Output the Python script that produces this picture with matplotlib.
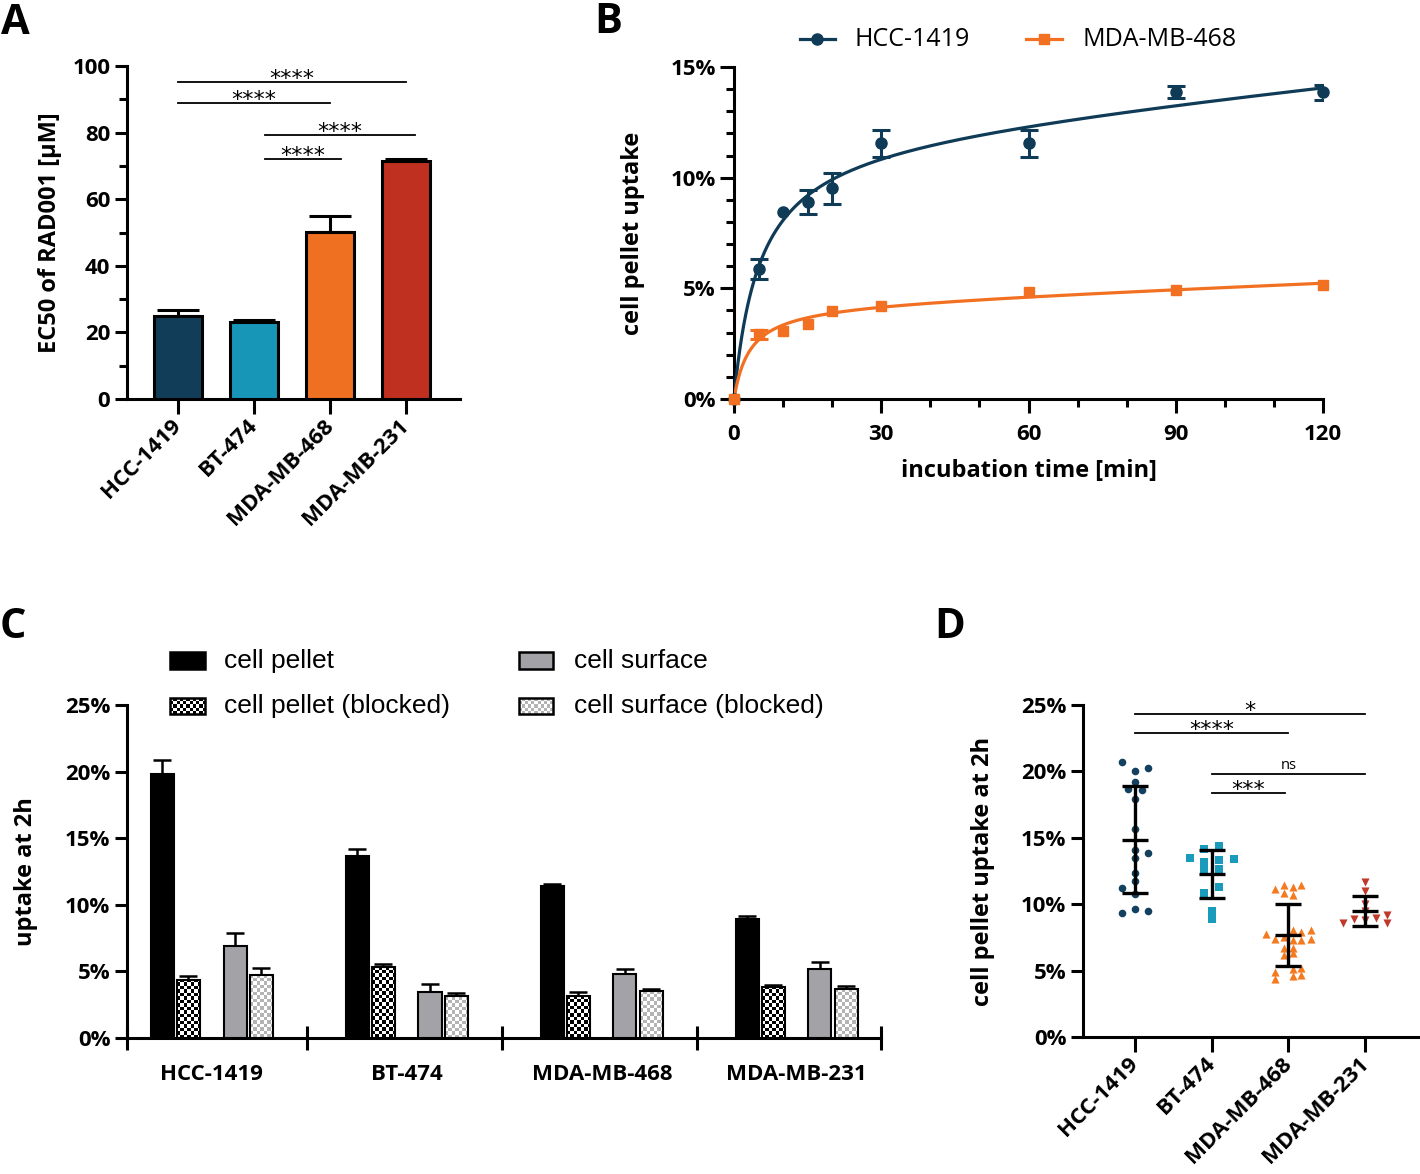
import numpy as np
import matplotlib
matplotlib.use('Agg')
import matplotlib.pyplot as plt
from matplotlib.colors import ListedColormap
from matplotlib.ticker import FuncFormatter, MultipleLocator

W, H = 1420, 1174
plt.rcParams['font.family'] = ['Open Sans', 'DejaVu Sans']
plt.rcParams['font.weight'] = 'bold'
plt.rcParams['axes.labelweight'] = 'bold'

# ---------------- data ----------------
cell_lines = ['HCC-1419', 'BT-474', 'MDA-MB-468', 'MDA-MB-231']
bar_colors = ['#123d59', '#1796b8', '#f07022', '#bf3020']

# A : EC50 of RAD001 (µM)
ec50 = [24.8, 23.0, 50.2, 71.5]
ec50_err = [1.85, 0.75, 4.8, 0.6]
sig_a_start = [0, 0, 1.14, 1.14]
sig_a_end = [3, 2, 3.12, 2.15]
sig_a_y = [95.1, 89.0, 79.2, 72.2]
sig_a_txt = ['****', '****', '****', '****']

# B : uptake kinetics
time_min = [0, 5, 10, 15, 20, 30, 60, 90, 120]
hcc_uptake = [0, 5.86, 8.46, 8.9, 9.53, 11.55, 11.55, 13.86, 13.86]
hcc_err = [0, 0.45, 0, 0.55, 0.7, 0.62, 0.62, 0.26, 0.33]
mda_uptake = [0, 2.92, 3.09, 3.39, 3.99, 4.22, 4.82, 4.92, 5.14]
mda_err = [0, 0.2, 0, 0, 0, 0, 0, 0, 0]

# C : uptake at 2h
pellet = [19.83, 13.68, 11.39, 8.97]
pellet_err = [1.07, 0.53, 0.2, 0.2]
pellet_blk = [4.36, 5.34, 3.17, 3.83]
pellet_blk_err = [0.33, 0.21, 0.31, 0.15]
surface = [6.9, 3.45, 4.79, 5.17]
surface_err = [0.96, 0.58, 0.38, 0.55]
surface_blk = [4.76, 3.13, 3.53, 3.7]
surface_blk_err = [0.53, 0.25, 0.15, 0.18]

# D : single measurements (value, horizontal scatter offset)
hcc_pts = [20.71, 20.0, 20.28, 19.23, 18.7, 18.58, 17.9, 15.69, 14.1, 13.86,
           13.5, 12.35, 11.78, 11.25, 10.8, 9.34, 9.67, 9.47]
hcc_dx = [-0.17, 0, 0.17, 0, -0.09, 0.09, 0, 0, 0, 0.17,
          0, 0, 0, -0.17, 0, -0.17, 0, 0.17]
bt_pts = [13.5, 14.18, 14.36, 13.4, 13.18, 13.3, 12.6, 12.68, 11.3, 10.85, 9.49, 8.91]
bt_dx = [-0.29, -0.1, 0.09, 0.29, -0.1, 0.09, -0.1, 0.09, 0.09, -0.1, 0, 0]
m468_pts = [11.18, 11.42, 11.3, 11.42, 10.84, 10.69,
            7.73, 7.36, 7.53, 8.03, 7.9, 8.03, 7.33, 7.28, 7.41,
            6.7, 6.7, 6.2, 6.3,
            4.9, 4.4, 5.15, 5.23, 4.57, 4.65]
m468_dx = [-0.17, -0.06, 0.06, 0.17, -0.06, 0.06,
           -0.29, -0.17, -0.06, 0.06, 0.17, 0.29, 0.06, 0.17, 0.29,
           -0.06, 0.06, -0.06, 0.06,
           -0.17, -0.17, 0.06, 0.17, 0.06, 0.17]
m231_pts = [11.67, 10.97, 10.05, 9.5, 8.58, 8.92, 8.79, 8.96, 9.16, 8.58]
m231_dx = [0, 0, 0, 0, -0.29, -0.14, 0, 0.14, 0.29, 0.29]
d_mean = [14.87, 12.3, 7.7, 9.5]
d_sd = [4.05, 1.8, 2.35, 1.12]
sig_d_start = [0, 0, 1, 1]
sig_d_end = [3, 2, 3, 1.96]
sig_d_y = [24.3, 22.9, 19.8, 18.4]
sig_d_txt = ['*', '****', 'ns', '***']

navy = '#0f3b57'
orange = '#f27022'
pct = FuncFormatter(lambda v, p: f'{v:.0f}%')


def ax_rect(x0, y_top, x1, y_bottom):
    return [x0 / W, 1 - y_bottom / H, (x1 - x0) / W, (y_bottom - y_top) / H]


def style(ax):
    for s in ['top', 'right']:
        ax.spines[s].set_visible(False)
    for s in ['left', 'bottom']:
        ax.spines[s].set_linewidth(2.2)
        ax.spines[s].set_capstyle('projecting')
    ax.tick_params(which='major', width=2.2, length=9, labelsize=16, pad=3)
    ax.tick_params(which='minor', width=2.2, length=5.5)


def checker(ax, x0, x1, y0, y1, c_dark, c_light, cell=3.5, trans=None, clip=None, zorder=2):
    trans = trans or ax.transData
    p0 = trans.transform((x0, y0))
    p1 = trans.transform((x1, y1))
    nx = max(1, int(round(abs(p1[0] - p0[0]) / cell)))
    ny = max(1, int(round(abs(p1[1] - p0[1]) / cell)))
    arr = np.add.outer(np.arange(ny), np.arange(nx)) % 2
    im = ax.imshow(arr, extent=[x0, x1, y0, y1], transform=trans,
                   cmap=ListedColormap([c_light, c_dark]), interpolation='nearest',
                   aspect='auto', origin='lower', zorder=zorder)
    if clip is not None:
        im.set_clip_path(clip)
    else:
        im.set_clip_on(False)
    return im


def fit_total_binding(t, y):
    # Y = Bmax*X/(Kd+X) + NS*X
    t = np.asarray(t, float)
    y = np.asarray(y, float)
    best = None
    for kd in np.linspace(0.2, 60, 1200):
        A = np.column_stack([t / (kd + t), t])
        coef, *_ = np.linalg.lstsq(A, y, rcond=None)
        res = np.sum((A @ coef - y) ** 2)
        if best is None or res < best[0]:
            best = (res, kd, coef)
    return best[1], best[2]


def sig_text(ax, xc, yy, t):
    if t == 'ns':
        ax.annotate(t, (xc, yy), xytext=(0, 1), textcoords='offset points',
                    ha='center', va='bottom', fontsize=10.5, fontweight='normal')
    else:
        ax.annotate(t, (xc, yy), xytext=(0, -5), textcoords='offset points',
                    ha='center', va='bottom', fontsize=16, fontweight='normal',
                    family='DejaVu Sans')


fig = plt.figure(figsize=(W / 100, H / 100), dpi=100)

# ---------------- A ----------------
axA = fig.add_axes(ax_rect(127, 66, 460, 399))
style(axA)
x = np.arange(len(cell_lines))
axA.set_xlim(-0.67, 3.71)
axA.set_ylim(0, 100)
axA.errorbar(x, ec50, yerr=[np.zeros(4), ec50_err], fmt='none', ecolor='k',
             elinewidth=2.2, capsize=15, capthick=2.2, zorder=2)
axA.bar(x, ec50, width=0.63, color=bar_colors, edgecolor='k', linewidth=2.2, zorder=3)
axA.yaxis.set_major_locator(MultipleLocator(20))
axA.yaxis.set_minor_locator(MultipleLocator(10))
axA.set_xticks(x)
axA.set_xticklabels(cell_lines, rotation=45, ha='right', va='center', rotation_mode='anchor')
axA.tick_params(axis='x', length=11, pad=6)
axA.set_ylabel('EC50 of RAD001 [µM]', fontsize=17)
axA.yaxis.set_label_coords(-0.196, 0.5)
for x0, x1, yy, t in zip(sig_a_start, sig_a_end, sig_a_y, sig_a_txt):
    axA.plot([x0, x1], [yy, yy], color='k', lw=1.3)
    sig_text(axA, (x0 + x1) / 2, yy, t)

# ---------------- B ----------------
axB = fig.add_axes(ax_rect(734, 67, 1323, 399))
style(axB)
axB.set_xlim(0, 120)
axB.set_ylim(0, 15)
tt = np.linspace(0, 120, 600)
tm = np.array(time_min)
for yv, ye, col, mk, ms in [(hcc_uptake, hcc_err, navy, 'o', 8),
                            (mda_uptake, mda_err, orange, 's', 7.5)]:
    kd, (bmax, ns) = fit_total_binding(time_min, yv)
    axB.plot(tt, bmax * tt / (kd + tt) + ns * tt, color=col, lw=2.3, zorder=3)
    yv = np.array(yv)
    ye = np.array(ye)
    has = ye > 0
    axB.errorbar(tm[has], yv[has], yerr=ye[has], fmt='none', ecolor=col, capsize=6.5,
                 elinewidth=2.2, capthick=2.2, zorder=4)
    axB.plot(tm, yv, ls='none', marker=mk, ms=ms, color=col, zorder=5, clip_on=False)
axB.xaxis.set_major_locator(MultipleLocator(30))
axB.xaxis.set_minor_locator(MultipleLocator(10))
axB.yaxis.set_major_locator(MultipleLocator(5))
axB.yaxis.set_minor_locator(MultipleLocator(1))
axB.yaxis.set_major_formatter(pct)
axB.tick_params(which='major', length=10)
axB.tick_params(axis='x', pad=8)
axB.set_ylabel('cell pellet uptake', fontsize=17)
axB.yaxis.set_label_coords(-0.151, 0.5)
axB.set_xlabel('incubation time [min]', fontsize=17)
axB.xaxis.set_label_coords(0.5, -0.18)
for (xa, xb, xt), lab, col, mk, ms in [((0.112, 0.171, 0.205), 'HCC-1419', navy, 'o', 8),
                                      ((0.496, 0.557, 0.591), 'MDA-MB-468', orange, 's', 7)]:
    axB.plot([xa, xb], [1.083, 1.083], color=col, lw=2.3, transform=axB.transAxes, clip_on=False)
    axB.plot([(xa + xb) / 2], [1.083], marker=mk, ms=ms, color=col,
             transform=axB.transAxes, clip_on=False)
    axB.text(xt, 1.083, lab, transform=axB.transAxes, fontsize=18, fontweight='normal',
             va='center', ha='left')

# ---------------- C ----------------
axC = fig.add_axes(ax_rect(127, 705, 881, 1038))
style(axC)
xl, xr = -0.182, 3.685
axC.set_xlim(xl, xr)
axC.set_ylim(0, 25)
offs = [0, 0.132, 0.372, 0.506]
bw = 0.118
gray = '#a3a3a7'
series = [(pellet, pellet_err, 'solid', 'k'),
          (pellet_blk, pellet_blk_err, 'check', ('k', 'white')),
          (surface, surface_err, 'solid', gray),
          (surface_blk, surface_blk_err, 'check', ('#b4b4b4', 'white'))]
for off, (vals, errs, kind, col) in zip(offs, series):
    xs = x + off
    axC.errorbar(xs, vals, yerr=[np.zeros(4), errs], fmt='none', ecolor='k',
                 elinewidth=1.8, capsize=6.5, capthick=1.8, zorder=2)
    if kind == 'solid':
        axC.bar(xs, vals, width=bw, color=col, edgecolor='k', linewidth=1.5, zorder=3)
    else:
        bars = axC.bar(xs, vals, width=bw, facecolor='none', edgecolor='k', linewidth=1.5, zorder=4)
        for b in bars:
            checker(axC, b.get_x(), b.get_x() + b.get_width(), 0, b.get_height(),
                    col[0], col[1], clip=b, zorder=3)
seps = [xl, 0.74, 1.74, 2.74, xr]
axC.set_xticks(seps)
axC.set_xticklabels([''] * len(seps))
axC.tick_params(axis='x', which='major', direction='inout', length=17)
axC.set_xticks(x + 0.253, minor=True)
axC.set_xticklabels(cell_lines, minor=True, fontsize=16)
axC.tick_params(axis='x', which='minor', length=0, pad=19)
axC.yaxis.set_major_locator(MultipleLocator(5))
axC.yaxis.set_major_formatter(pct)
axC.set_ylabel('uptake at 2h', fontsize=17)
axC.yaxis.set_label_coords(-0.118, 0.5)
# legend
leg_items = [((0.057, 0.104, 1.108, 1.159), 'cell pellet', 'solid', 'k', 0.129),
             ((0.057, 0.104, 0.973, 1.021), 'cell pellet (blocked)', 'check', ('k', 'white'), 0.129),
             ((0.520, 0.565, 1.108, 1.159), 'cell surface', 'solid', gray, 0.593),
             ((0.520, 0.565, 0.973, 1.021), 'cell surface (blocked)', 'check', ('#b4b4b4', 'white'), 0.593)]
for (a0, a1, b0, b1), lab, kind, col, xt in leg_items:
    if kind == 'solid':
        axC.add_patch(plt.Rectangle((a0, b0), a1 - a0, b1 - b0, facecolor=col, edgecolor='k',
                                    lw=1.8, transform=axC.transAxes, clip_on=False, zorder=5))
    else:
        checker(axC, a0, a1, b0, b1, col[0], col[1], cell=3.2, trans=axC.transAxes, zorder=5)
        axC.add_patch(plt.Rectangle((a0, b0), a1 - a0, b1 - b0, facecolor='none', edgecolor='k',
                                    lw=1.8, transform=axC.transAxes, clip_on=False, zorder=6))
    axC.text(xt, (b0 + b1) / 2, lab, transform=axC.transAxes, fontsize=19, fontweight='normal',
             family=['Liberation Sans', 'DejaVu Sans'], va='center', ha='left')
axC.set_xlim(xl, xr)
axC.set_ylim(0, 25)

# ---------------- D ----------------
axD = fig.add_axes(ax_rect(1083, 705, 1418, 1037))
style(axD)
axD.set_xlim(-0.68, 3.69)
axD.set_ylim(0, 25)
d_groups = [(hcc_pts, hcc_dx, 'o', '#13405e', 30),
            (bt_pts, bt_dx, 's', '#1a9bbb', 30),
            (m468_pts, m468_dx, '^', '#f47a20', 34),
            (m231_pts, m231_dx, 'v', '#c0392b', 34)]
for i, (pts, dx, mk, col, sz) in enumerate(d_groups):
    axD.scatter(i + np.array(dx), pts, marker=mk, s=sz, color=col, linewidths=0, zorder=3)
    axD.hlines(d_mean[i], i - 0.17, i + 0.17, color='k', lw=2.4, zorder=4)
    axD.errorbar(i, d_mean[i], yerr=d_sd[i], fmt='none', ecolor='k', elinewidth=2.4,
                 capsize=9.5, capthick=2.4, zorder=4)
axD.set_xticks(x)
axD.set_xticklabels(cell_lines, rotation=45, ha='right', va='center', rotation_mode='anchor')
axD.tick_params(axis='x', length=11, pad=6)
axD.yaxis.set_major_locator(MultipleLocator(5))
axD.yaxis.set_major_formatter(pct)
axD.set_ylabel('cell pellet uptake at 2h', fontsize=17)
axD.yaxis.set_label_coords(-0.263, 0.5)
for x0, x1, yy, t in zip(sig_d_start, sig_d_end, sig_d_y, sig_d_txt):
    axD.plot([x0, x1], [yy, yy], color='k', lw=1.3)
    sig_text(axD, (x0 + x1) / 2, yy, t)

# panel letters
for lab, px, py in [('A', 1, 34), ('B', 594, 33), ('C', 0, 638), ('D', 934, 638)]:
    fig.text(px / W, 1 - py / H, lab, fontsize=30, fontweight='bold', ha='left', va='baseline')

fig.savefig('out.png', dpi=100)
